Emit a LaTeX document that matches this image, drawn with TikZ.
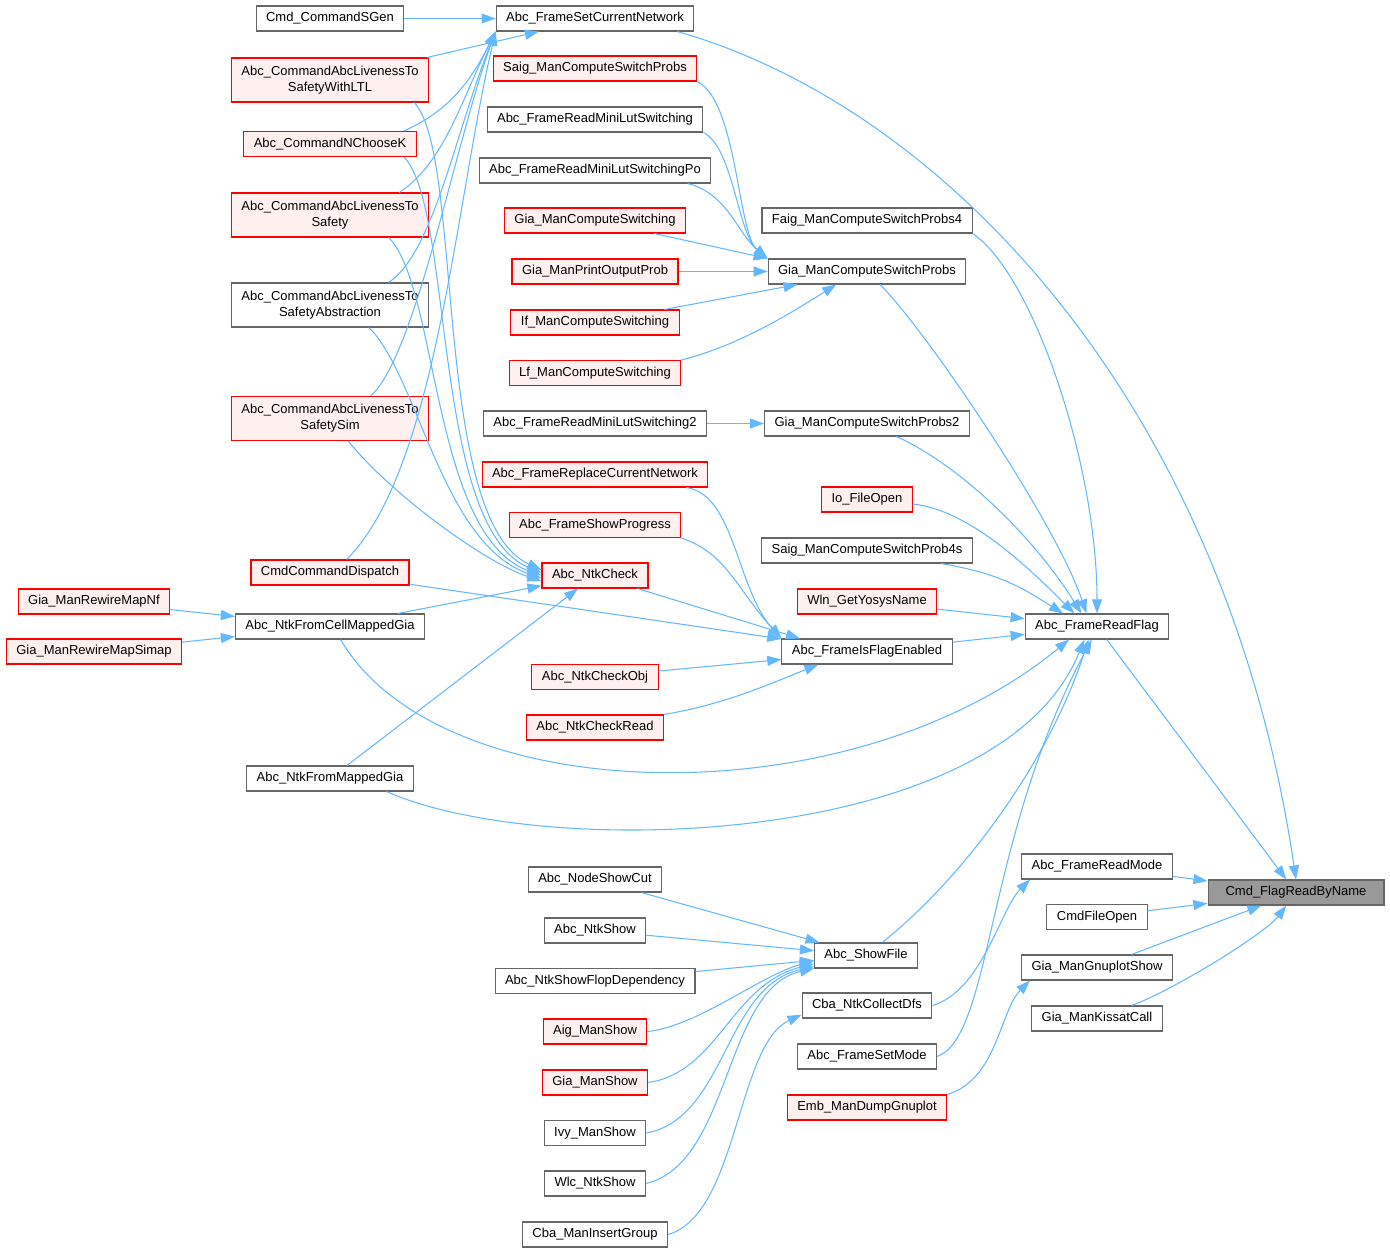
\documentclass[tikz,border=0pt]{standalone}
\usepackage{fontspec}
\setmainfont{Liberation Sans}
\usetikzlibrary{arrows.meta}
\definecolor{edgeblue}{HTML}{63B8FF}
\definecolor{nodegray}{HTML}{666666}
\definecolor{hitred}{HTML}{FF0000}
\definecolor{hitfill}{HTML}{FFF0F0}
\definecolor{rootgray}{HTML}{999999}

\begin{document}
\begin{tikzpicture}[
  x=0.02cm, y=-0.02cm,
  fn/.style={draw=nodegray, fill=white, rectangle, line width=0.6pt,
             minimum height=0.5cm, inner xsep=0.2cm, inner ysep=0pt,
             font=\fontsize{7.4}{9.1}\selectfont, align=center},
  fnred/.style={fn, draw=hitred, fill=hitfill},
  fnroot/.style={fn, fill=rootgray, minimum width=3.52cm},
  twoline/.style={minimum height=0.88cm},
  call/.style={-{Triangle[length=8pt,width=5.7pt]}, draw=edgeblue, line width=0.6pt}
]
  \useasboundingbox (0,0) rectangle (1390,1253);

  %% Callee
  \node[fnroot] (root) at (1296,892.5) {Cmd\_FlagReadByName};

  %% Direct callers
  \node[fn] (setnet)   at (595,18.5)   {Abc\_FrameSetCurrentNetwork};
  \node[fn] (readflag) at (1097,626.5) {Abc\_FrameReadFlag};
  \node[fn] (readmode) at (1097,866.5) {Abc\_FrameReadMode};
  \node[fn] (fileopen) at (1097,917)   {CmdFileOpen};
  \node[fn] (gnuplot)  at (1097,967.5) {Gia\_ManGnuplotShow};
  \node[fn] (kissat)   at (1097,1018.5) {Gia\_ManKissatCall};

  %% Third column
  \node[fn]    (faig4)    at (867,220.5)  {Faig\_ManComputeSwitchProbs4};
  \node[fn]    (gcsp)     at (867,271.5)  {Gia\_ManComputeSwitchProbs};
  \node[fn]    (gcsp2)    at (867,423.5)  {Gia\_ManComputeSwitchProbs2};
  \node[fnred] (iofile)   at (867,499.5)  {Io\_FileOpen};
  \node[fn]    (saig4)    at (867,550.5)  {Saig\_ManComputeSwitchProb4s};
  \node[fnred] (wln)      at (867,601.5)  {Wln\_GetYosysName};
  \node[fn]    (isflag)   at (867,651.5)  {Abc\_FrameIsFlagEnabled};
  \node[fn]    (showfile) at (866,955.5)  {Abc\_ShowFile};
  \node[fn]    (cbadfs)   at (867,1005.5) {Cba\_NtkCollectDfs};
  \node[fn]    (setmode)  at (867,1056.5) {Abc\_FrameSetMode};
  \node[fnred] (embdump)  at (867,1107.5) {Emb\_ManDumpGnuplot};

  %% Second column
  \node[fnred] (saigp)     at (595,68.5)   {Saig\_ManComputeSwitchProbs};
  \node[fn]    (minilut)   at (595,119.5)  {Abc\_FrameReadMiniLutSwitching};
  \node[fn]    (minilutpo) at (595,170.5)  {Abc\_FrameReadMiniLutSwitchingPo};
  \node[fnred] (gcsw)      at (595,220.5)  {Gia\_ManComputeSwitching};
  \node[fnred] (gpop)      at (595,271.5)  {Gia\_ManPrintOutputProb};
  \node[fnred] (ifcs)      at (595,322.5)  {If\_ManComputeSwitching};
  \node[fnred] (lfcs)      at (595,373)    {Lf\_ManComputeSwitching};
  \node[fn]    (minilut2)  at (595,423.5)  {Abc\_FrameReadMiniLutSwitching2};
  \node[fnred] (replace)   at (595,474.5)  {Abc\_FrameReplaceCurrentNetwork};
  \node[fnred] (progress)  at (595,525)    {Abc\_FrameShowProgress};
  \node[fnred] (check)     at (595,575.5)  {Abc\_NtkCheck};
  \node[fnred] (checkobj)  at (595,677)    {Abc\_NtkCheckObj};
  \node[fnred] (checkread) at (595,727.5)  {Abc\_NtkCheckRead};
  \node[fn]    (showcut)   at (595,879.5)  {Abc\_NodeShowCut};
  \node[fn]    (ntkshow)   at (595,930.5)  {Abc\_NtkShow};
  \node[fn]    (flopdep)   at (595,981)    {Abc\_NtkShowFlopDependency};
  \node[fnred] (aigshow)   at (595,1031.5) {Aig\_ManShow};
  \node[fnred] (giashow)   at (595,1082.5) {Gia\_ManShow};
  \node[fn]    (ivyshow)   at (595,1133)   {Ivy\_ManShow};
  \node[fn]    (wlcshow)   at (595,1183.5) {Wlc\_NtkShow};
  \node[fn]    (cbains)    at (595,1234.5) {Cba\_ManInsertGroup};

  %% First column
  \node[fn]             (sgen)     at (330,18.5)  {Cmd\_CommandSGen};
  \node[fnred, twoline] (ltl)      at (330,80)    {Abc\_CommandAbcLivenessTo\\SafetyWithLTL};
  \node[fnred]          (nck)      at (330,144)   {Abc\_CommandNChooseK};
  \node[fnred, twoline] (lsafe)    at (330,215)   {Abc\_CommandAbcLivenessTo\\Safety};
  \node[fn, twoline]    (labs)     at (330,305)   {Abc\_CommandAbcLivenessTo\\SafetyAbstraction};
  \node[fnred, twoline] (lsim)     at (330,418.5) {Abc\_CommandAbcLivenessTo\\SafetySim};
  \node[fnred]          (dispatch) at (330,572.5) {CmdCommandDispatch};
  \node[fn]             (cellmap)  at (330,626.5) {Abc\_NtkFromCellMappedGia};
  \node[fn]             (frommap)  at (330,778.5) {Abc\_NtkFromMappedGia};

  %% Outer column
  \node[fnred] (rwnf)    at (94,601.5) {Gia\_ManRewireMapNf};
  \node[fnred] (rwsimap) at (94,651.5) {Gia\_ManRewireMapSimap};

  %% Into Cmd_FlagReadByName
  \draw[call] (setnet.-9) .. controls +(268,76) and +(-70,-475) .. (root.north);
  \draw[call] (readflag) -- (root);
  \draw[call] (readmode) -- (root);
  \draw[call] (fileopen) -- (root);
  \draw[call] (gnuplot) -- (root);
  \draw[call] (kissat) .. controls +(80,-30) and +(-30,40) .. (root);

  %% Into Abc_FrameReadFlag
  \draw[call] (faig4.south east) .. controls +(60,40) and +(0,-150) .. (readflag.north);
  \draw[call] (gcsp) .. controls +(60,60) and +(-30,-90) .. (readflag.129);
  \draw[call] (gcsp2) .. controls +(90,40) and +(-50,-80) .. (readflag.140);
  \draw[call] (iofile) .. controls +(100,10) and +(-50,-50) .. (readflag.150);
  \draw[call] (saig4.-10) .. controls +(60,10) and +(-40,-25) .. (readflag.159);
  \draw[call] (wln) -- (readflag);
  \draw[call] (isflag) -- (readflag);
  \draw[call] (cellmap.-51) .. controls +(100,171) and +(-220,181) .. (readflag.205);
  \draw[call] (frommap.-13) .. controls +(155,69) and +(-85,210) .. (readflag.226);
  \draw[call] (showfile) .. controls +(100,-80) and +(-39,120) .. (readflag.237);
  \draw[call] (setmode.east) .. controls +(55,-20) and +(-107,200) .. (readflag.248);

  %% Into Abc_FrameReadMode and Gia_ManGnuplotShow
  \draw[call] (cbadfs.east) .. controls +(50,-15) and +(-30,30) .. (readmode.191);
  \draw[call] (embdump.north east) .. controls +(50,-15) and +(-30,30) .. (gnuplot.191);

  %% Into Gia_ManComputeSwitchProbs(2)
  \draw[call] (saigp.south east) .. controls +(40,20) and +(-30,-25) .. (gcsp.north west);
  \draw[call] (minilut.south east) .. controls +(30,15) and +(-30,-25) .. (gcsp.north west);
  \draw[call] (minilutpo.-8) .. controls +(40,10) and +(-30,-25) .. (gcsp.north west);
  \draw[call] (gcsw) -- (gcsp.north west);
  \draw[call] (gpop) -- (gcsp);
  \draw[call] (ifcs) -- (gcsp);
  \draw[call] (lfcs.north east) .. controls +(60,-15) and +(-40,25) .. (gcsp.203);
  \draw[call] (minilut2) -- (gcsp2);

  %% Into Abc_FrameIsFlagEnabled
  \draw[call] (replace) .. controls +(140,20) and +(-45,-50) .. (isflag.north west);
  \draw[call] (progress.south east) .. controls +(45,15) and +(-45,-50) .. (isflag.north west);
  \draw[call] (check) -- (isflag.169);
  \draw[call] (dispatch) -- (isflag);
  \draw[call] (checkobj) -- (isflag);
  \draw[call] (checkread.north east) .. controls +(60,-10) and +(-50,20) .. (isflag.195);

  %% Into Abc_NtkCheck
  \draw[call] (ltl.-15) .. controls +(50,50) and +(-110,-50) .. (check.174);
  \draw[call] (nck.-10) .. controls +(50,50) and +(-110,-45) .. (check.177);
  \draw[call] (lsafe.-21) .. controls +(50,50) and +(-110,-40) .. (check.west);
  \draw[call] (labs.-30) .. controls +(50,50) and +(-100,-35) .. (check.183);
  \draw[call] (lsim.-51) .. controls +(40,50) and +(-60,-20) .. (check.186);
  \draw[call] (cellmap) -- (check);
  \draw[call] (frommap) -- (check);

  %% Into Abc_FrameSetCurrentNetwork
  \draw[call] (sgen) -- (setnet);
  \draw[call] (ltl) -- (setnet);
  \draw[call] (nck.10) .. controls +(45,-20) and +(-25,50) .. (setnet.south west);
  \draw[call] (lsafe.18) .. controls +(45,-30) and +(-35,70) .. (setnet.south west);
  \draw[call] (labs.21) .. controls +(45,-30) and +(-40,100) .. (setnet.south west);
  \draw[call] (lsim.29) .. controls +(45,-40) and +(-40,110) .. (setnet.south west);
  \draw[call] (dispatch.38) .. controls +(90,-90) and +(-40,170) .. (setnet.south west);

  %% Into Abc_NtkFromCellMappedGia
  \draw[call] (rwnf) -- (cellmap);
  \draw[call] (rwsimap) -- (cellmap);

  %% Into Abc_ShowFile and Cba_NtkCollectDfs
  \draw[call] (showcut) -- (showfile);
  \draw[call] (ntkshow) -- (showfile);
  \draw[call] (flopdep) -- (showfile);
  \draw[call] (aigshow.east) .. controls +(50,-5) and +(-53,14) .. (showfile.186);
  \draw[call] (giashow.east) .. controls +(70,-10) and +(-83,21) .. (showfile.189);
  \draw[call] (ivyshow.east) .. controls +(80,-15) and +(-90,20) .. (showfile.192);
  \draw[call] (wlcshow.east) .. controls +(85,-20) and +(-90,20) .. (showfile.194);
  \draw[call] (cbains.east) .. controls +(70,-20) and +(-65,30) .. (cbadfs.188);
\end{tikzpicture}
\end{document}
